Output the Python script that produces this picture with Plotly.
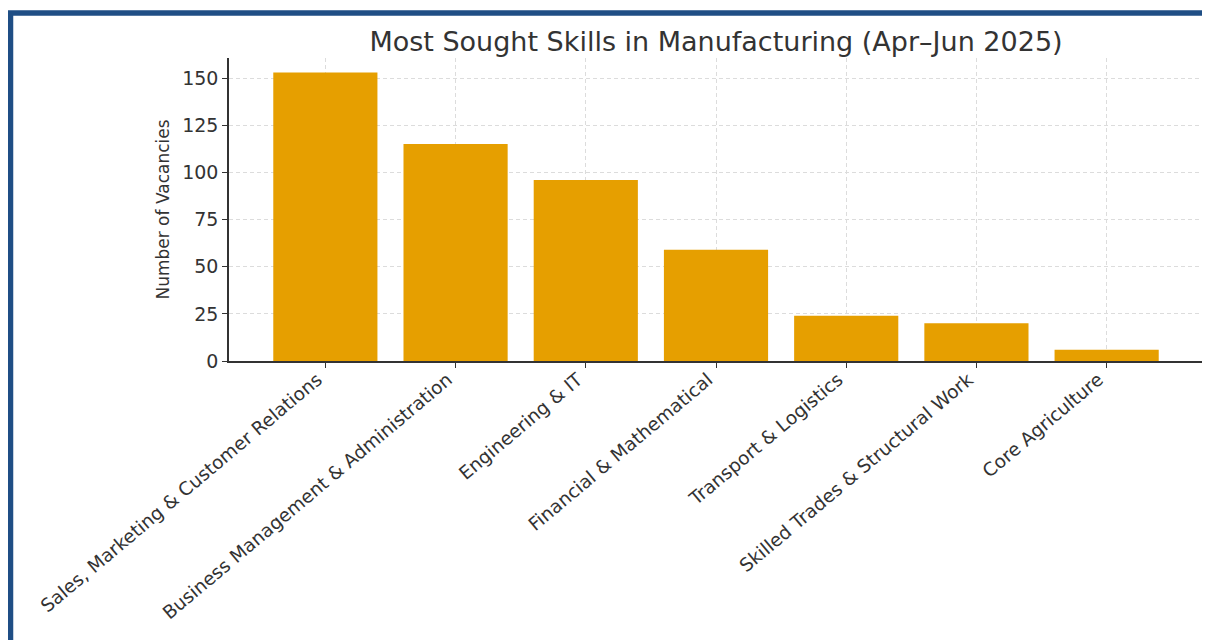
import plotly.graph_objects as go

categories = [
    "Sales, Marketing & Customer Relations",
    "Business Management & Administration",
    "Engineering & IT",
    "Financial & Mathematical",
    "Transport & Logistics",
    "Skilled Trades & Structural Work",
    "Core Agriculture",
]
vacancies = [153, 115, 96, 59, 24, 20, 6]
y_ticks = [0, 25, 50, 75, 100, 125, 150]

FONT = "DejaVu Sans"
TXT = "#333333"

fig = go.Figure(
    go.Bar(
        x=list(range(len(categories))),
        y=vacancies,
        width=0.8,
        marker=dict(color="#E69F00", line=dict(width=0)),
    )
)

# page body has an 8px offset; margins compensate for it
W, H = 1210, 640
OFF = 8
L, R, T, B = 229 - OFF, 7 + OFF, 58 - OFF, 279 + OFF
pw = W - L - R
ph = H - T - B

fig.update_layout(
    width=W,
    height=H,
    margin=dict(l=L, r=R, t=T, b=B),
    paper_bgcolor="white",
    plot_bgcolor="white",
    font=dict(family=FONT, color=TXT, size=18),
    showlegend=False,
    title=dict(
        text="Most Sought Skills in Manufacturing (Apr\u2013Jun 2025)",
        x=0.5,
        xref="paper",
        xanchor="center",
        y=1 - (42 - OFF) / H,
        yanchor="middle",
        font=dict(family=FONT, size=27, color=TXT),
    ),
    bargap=0.2,
)

fig.update_xaxes(
    range=[-0.74, 6.74],
    tickmode="array",
    tickvals=list(range(len(categories))),
    ticktext=categories,
    tickangle=-40,
    tickfont=dict(size=18.5, color=TXT),
    ticks="outside",
    ticklen=5,
    tickcolor="#333333",
    ticklabelstandoff=-6,
    ticklabelshift=-8,
    showline=True,
    linecolor="#333333",
    linewidth=1.5,
    showgrid=True,
    gridcolor="#dcdcdc",
    griddash="4px,3px",
    gridwidth=1,
    zeroline=False,
)

fig.update_yaxes(
    range=[0, 160.65],
    tickmode="array",
    tickvals=y_ticks,
    tickfont=dict(size=19, color=TXT),
    ticks="outside",
    ticklen=5,
    tickcolor="#333333",
    showline=True,
    linecolor="#333333",
    linewidth=1.5,
    showgrid=True,
    gridcolor="#dcdcdc",
    griddash="4px,3px",
    gridwidth=1,
    zeroline=False,
    title=dict(text="Number of Vacancies", font=dict(size=17, color=TXT), standoff=8),
)

# Outer frame (dark blue border, extends beyond right/bottom of image)
x0 = (10.5 - OFF - L) / pw
y0 = (H - B - (13 - OFF)) / ph
fig.add_shape(
    type="rect",
    xref="paper",
    yref="paper",
    x0=x0,
    x1=1.2,
    y0=-2.0,
    y1=y0,
    line=dict(color="#1F4E85", width=5.5),
    fillcolor="rgba(0,0,0,0)",
    layer="above",
)

fig.write_html("out.html")
